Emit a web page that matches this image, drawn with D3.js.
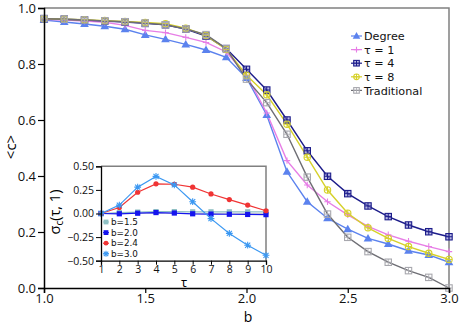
<!DOCTYPE html>
<html><head><meta charset="utf-8">
<script src="https://cdn.jsdelivr.net/npm/d3@7"></script>
<style>html,body{margin:0;padding:0;background:#fff}svg{display:block;font-family:"Open Sans",sans-serif}</style>
</head><body><svg id="c" width="463" height="327"></svg>
<script>
// ---------- data ----------
const bValues = [1.0,1.1,1.2,1.3,1.4,1.5,1.6,1.7,1.8,1.9,2.0,2.1,2.2,2.3,2.4,2.5,2.6,2.7,2.8,2.9,3.0];
const degree      = [0.957,0.950,0.943,0.935,0.924,0.904,0.888,0.870,0.850,0.824,0.750,0.618,0.415,0.308,0.249,0.210,0.177,0.157,0.133,0.118,0.092];
const tau1        = [0.960,0.957,0.953,0.949,0.938,0.920,0.912,0.895,0.877,0.843,0.760,0.625,0.455,0.368,0.308,0.261,0.220,0.190,0.167,0.148,0.130];
const tau4        = [0.962,0.960,0.957,0.953,0.950,0.945,0.940,0.925,0.900,0.855,0.781,0.707,0.600,0.490,0.399,0.337,0.293,0.255,0.225,0.201,0.183];
const tau8        = [0.962,0.960,0.958,0.955,0.952,0.948,0.944,0.928,0.902,0.852,0.760,0.690,0.585,0.467,0.350,0.267,0.215,0.177,0.148,0.124,0.102];
const traditional = [0.962,0.960,0.957,0.954,0.951,0.946,0.940,0.925,0.905,0.855,0.746,0.662,0.549,0.396,0.264,0.181,0.130,0.092,0.062,0.038,0.000];
const mainNames = ["Degree","τ = 1","τ = 4","τ = 8","Traditional"];
const mainXTicks = [1.0,1.5,2.0,2.5,3.0];
const mainYTicks = [0.0,0.2,0.4,0.6,0.8,1.0];

const tauValues = [1,2,3,4,5,6,7,8,9,10];
const b15 = [0,0.010,0.015,0.020,0.020,0.018,0.018,0.018,0.018,0.018];
const b20 = [0,-0.003,0.003,0.010,0.005,-0.003,-0.006,-0.008,-0.010,-0.012];
const b24 = [0,0.064,0.225,0.314,0.310,0.279,0.207,0.147,0.089,0.029];
const b30 = [0,0.089,0.279,0.393,0.303,0.125,-0.054,-0.211,-0.336,-0.443];
const insetNames = ["b=1.5","b=2.0","b=2.4","b=3.0"];
const insetYTicks = [-0.50,-0.25,0.00,0.25,0.50];

// ---------- setup ----------
const svg = d3.select("#c");
const x = d3.scaleLinear().domain([1,3]).range([44,449]);
const y = d3.scaleLinear().domain([0,1]).range([288,8]);

const mainSeries = [
  {name:mainNames[0], vals:degree, color:"#5b82ee", mk:"tri"},
  {name:mainNames[1], vals:tau1, color:"#e77ee6", mk:"plus"},
  {name:mainNames[2], vals:tau4, color:"#1c1c8a", mk:"sqx", fill:"#8a8ad0"},
  {name:mainNames[3], vals:tau8, color:"#d6d12a", mk:"circplus"},
  {name:mainNames[4], vals:traditional, color:"#6e6e74", mk:"sqplus", mcol:"#a8a8ae"}
];

function drawMarker(g, type, cx, cy, color, s, extra){
  s = s || 3.5;
  if(type==="tri"){
    g.append("path").attr("d", d3.symbol().type(d3.symbolTriangle).size(s*s*3.2)()).attr("transform",`translate(${cx},${cy+0.5})`).attr("fill",color);
  } else if(type==="plus"){
    g.append("path").attr("d",`M${cx-s},${cy}H${cx+s}M${cx},${cy-s}V${cy+s}`).attr("stroke",color).attr("stroke-width",1.1).attr("fill","none");
  } else if(type==="sqx"){
    g.append("rect").attr("x",cx-s).attr("y",cy-s).attr("width",2*s).attr("height",2*s).attr("fill",extra||"none").attr("stroke",color).attr("stroke-width",1.1).attr("fill-opacity",0.6);
    g.append("path").attr("d",`M${cx-s},${cy}H${cx+s}M${cx},${cy-s}V${cy+s}`).attr("stroke",color).attr("stroke-width",1);
  } else if(type==="circplus"){
    g.append("circle").attr("cx",cx).attr("cy",cy).attr("r",s).attr("fill","none").attr("stroke",color).attr("stroke-width",1.1);
    g.append("path").attr("d",`M${cx-s},${cy}H${cx+s}M${cx},${cy-s}V${cy+s}`).attr("stroke",color).attr("stroke-width",1);
  } else if(type==="sqplus"){
    g.append("rect").attr("x",cx-s).attr("y",cy-s).attr("width",2*s).attr("height",2*s).attr("fill","none").attr("stroke",color).attr("stroke-width",1.1);
    g.append("path").attr("d",`M${cx-s},${cy}H${cx+s}M${cx},${cy-s}V${cy+s}`).attr("stroke",color).attr("stroke-width",0.8);
  } else if(type==="sq"){
    g.append("rect").attr("x",cx-s).attr("y",cy-s).attr("width",2*s).attr("height",2*s).attr("fill",color);
  } else if(type==="circ"){
    g.append("circle").attr("cx",cx).attr("cy",cy).attr("r",s).attr("fill",color);
  } else if(type==="star"){
    const r=s;
    g.append("path").attr("d",`M${cx-r},${cy}H${cx+r}M${cx},${cy-r}V${cy+r}M${cx-r*0.75},${cy-r*0.75}L${cx+r*0.75},${cy+r*0.75}M${cx-r*0.75},${cy+r*0.75}L${cx+r*0.75},${cy-r*0.75}`).attr("stroke",color).attr("stroke-width",1.1);
  }
}

// frame top/right gray
svg.append("path").attr("d",`M${x(1)},${y(1)}H${x(3)}V${y(0)}`).attr("stroke","#808080").attr("stroke-width",1.5).attr("fill","none");

// lines
const line = d3.line().x((d,i)=>x(bValues[i])).y(d=>y(d));
const gLines = svg.append("g");
mainSeries.forEach(s=>{
  gLines.append("path").attr("d",line(s.vals)).attr("fill","none").attr("stroke",s.color).attr("stroke-width",1.4);
});
mainSeries.forEach(s=>{
  const g = gLines.append("g");
  s.vals.forEach((v,i)=>drawMarker(g,s.mk,x(bValues[i]),y(v),s.mcol||s.color,3.2,s.fill));
});

// axes
const xAxis = svg.append("g").attr("transform",`translate(0,${y(0)})`)
  .call(d3.axisBottom(x).tickValues(mainXTicks).tickFormat(d3.format(".1f")).tickSizeOuter(0).tickSize(5).tickPadding(1));
const yAxis = svg.append("g").attr("transform",`translate(${x(1)},0)`)
  .call(d3.axisLeft(y).tickValues(mainYTicks).tickFormat(d3.format(".1f")).tickSizeOuter(0).tickSize(6).tickPadding(2));
[xAxis,yAxis].forEach(a=>{
  a.selectAll("text").attr("font-size",13).attr("fill","#111").attr("font-family","'Open Sans',sans-serif");
  a.select(".domain").attr("stroke","#000").attr("stroke-width",1.5);
  a.selectAll(".tick line").attr("stroke","#000").attr("stroke-width",1.2);
});
svg.append("text").attr("x",248).attr("y",321.5).attr("text-anchor","middle").attr("font-size",14).text("b");
svg.append("text").attr("transform","translate(16,147) rotate(-90)").attr("text-anchor","middle").attr("font-size",15).text("<c>");

// legend
const leg = svg.append("g");
mainSeries.forEach((s,i)=>{
  const cy = 36 + i*13.6;
  leg.append("line").attr("x1",351).attr("x2",362).attr("y1",cy).attr("y2",cy).attr("stroke",s.color).attr("stroke-width",1.2);
  drawMarker(leg,s.mk,356.5,cy,s.mcol||s.color,2.8,s.fill);
  leg.append("text").attr("x",364).attr("y",cy+4.2).attr("font-size",11.2).attr("font-family","'DejaVu Sans',sans-serif").attr("fill","#111").text(s.name);
});

// ---------- inset ----------
const ix = d3.scaleLinear().domain([1,10]).range([101,266]);
const iy = d3.scaleLinear().domain([-0.5,0.5]).range([260.7,166.3]);
svg.append("rect").attr("x",56).attr("y",160).attr("width",ix(10)-56+1).attr("height",iy(-0.5)-160+24).attr("fill","#fff");
svg.append("path").attr("d",`M${ix(1)},${iy(0.5)}H${ix(10)}V${iy(-0.5)}`).attr("stroke","#808080").attr("stroke-width",1.5).attr("fill","none");
// zero line
svg.append("line").attr("x1",ix(1)).attr("x2",ix(10)).attr("y1",iy(0)).attr("y2",iy(0)).attr("stroke","#c8c8c8").attr("stroke-width",0.8);

const insetSeries = [
  {name:insetNames[0], vals:b15, color:"#8fc0c4", mk:"sq"},
  {name:insetNames[1], vals:b20, color:"#1414ee", mk:"sq"},
  {name:insetNames[2], vals:b24, color:"#f03434", mk:"circ"},
  {name:insetNames[3], vals:b30, color:"#3b98f2", mk:"star"}
];
const iline = d3.line().x((d,i)=>ix(tauValues[i])).y(d=>iy(d));
const gi = svg.append("g");
insetSeries.forEach(s=>{
  gi.append("path").attr("d",iline(s.vals)).attr("fill","none").attr("stroke",s.color).attr("stroke-width",1.2);
  s.vals.forEach((v,i)=>drawMarker(gi,s.mk,ix(tauValues[i]),iy(v),s.color,s.mk==="star"?3.4:2.6));
});
const ixAxis = svg.append("g").attr("transform",`translate(0,${iy(-0.5)})`)
  .call(d3.axisBottom(ix).tickValues(tauValues).tickFormat(d3.format("d")).tickSizeOuter(0).tickSize(4).tickPadding(1));
const iyAxis = svg.append("g").attr("transform",`translate(${ix(1)},0)`)
  .call(d3.axisLeft(iy).tickValues(insetYTicks).tickFormat(d=>d3.format(".2f")(d).replace("-","−")).tickSizeOuter(0).tickSize(5).tickPadding(2));
[ixAxis,iyAxis].forEach(a=>{
  a.selectAll("text").attr("font-size",10.5).attr("fill","#111").attr("font-family","'Open Sans',sans-serif");
  a.select(".domain").attr("stroke","#000").attr("stroke-width",1.3);
  a.selectAll(".tick line").attr("stroke","#000").attr("stroke-width",1);
});
svg.append("text").attr("x",184).attr("y",287).attr("text-anchor","middle").attr("font-size",13).text("τ");
const yl = svg.append("text").attr("transform","translate(60,212) rotate(-90)").attr("text-anchor","middle").attr("font-size",14.5);
yl.append("tspan").text("σ");
yl.append("tspan").attr("font-size",10).attr("dy",3).text("c");
yl.append("tspan").attr("dy",-3).text("(τ, 1)");

// inset legend
insetSeries.forEach((s,i)=>{
  const cy = 222 + i*10.6;
  svg.append("line").attr("x1",103).attr("x2",109).attr("y1",cy).attr("y2",cy).attr("stroke",s.color).attr("stroke-width",1);
  drawMarker(svg.append("g"),s.mk,106,cy,s.color,s.mk==="star"?3:2.4);
  svg.append("text").attr("x",111).attr("y",cy+3.2).attr("font-size",8.8).attr("font-family","'DejaVu Sans',sans-serif").attr("fill","#111").text(s.name);
});
</script></body></html>
